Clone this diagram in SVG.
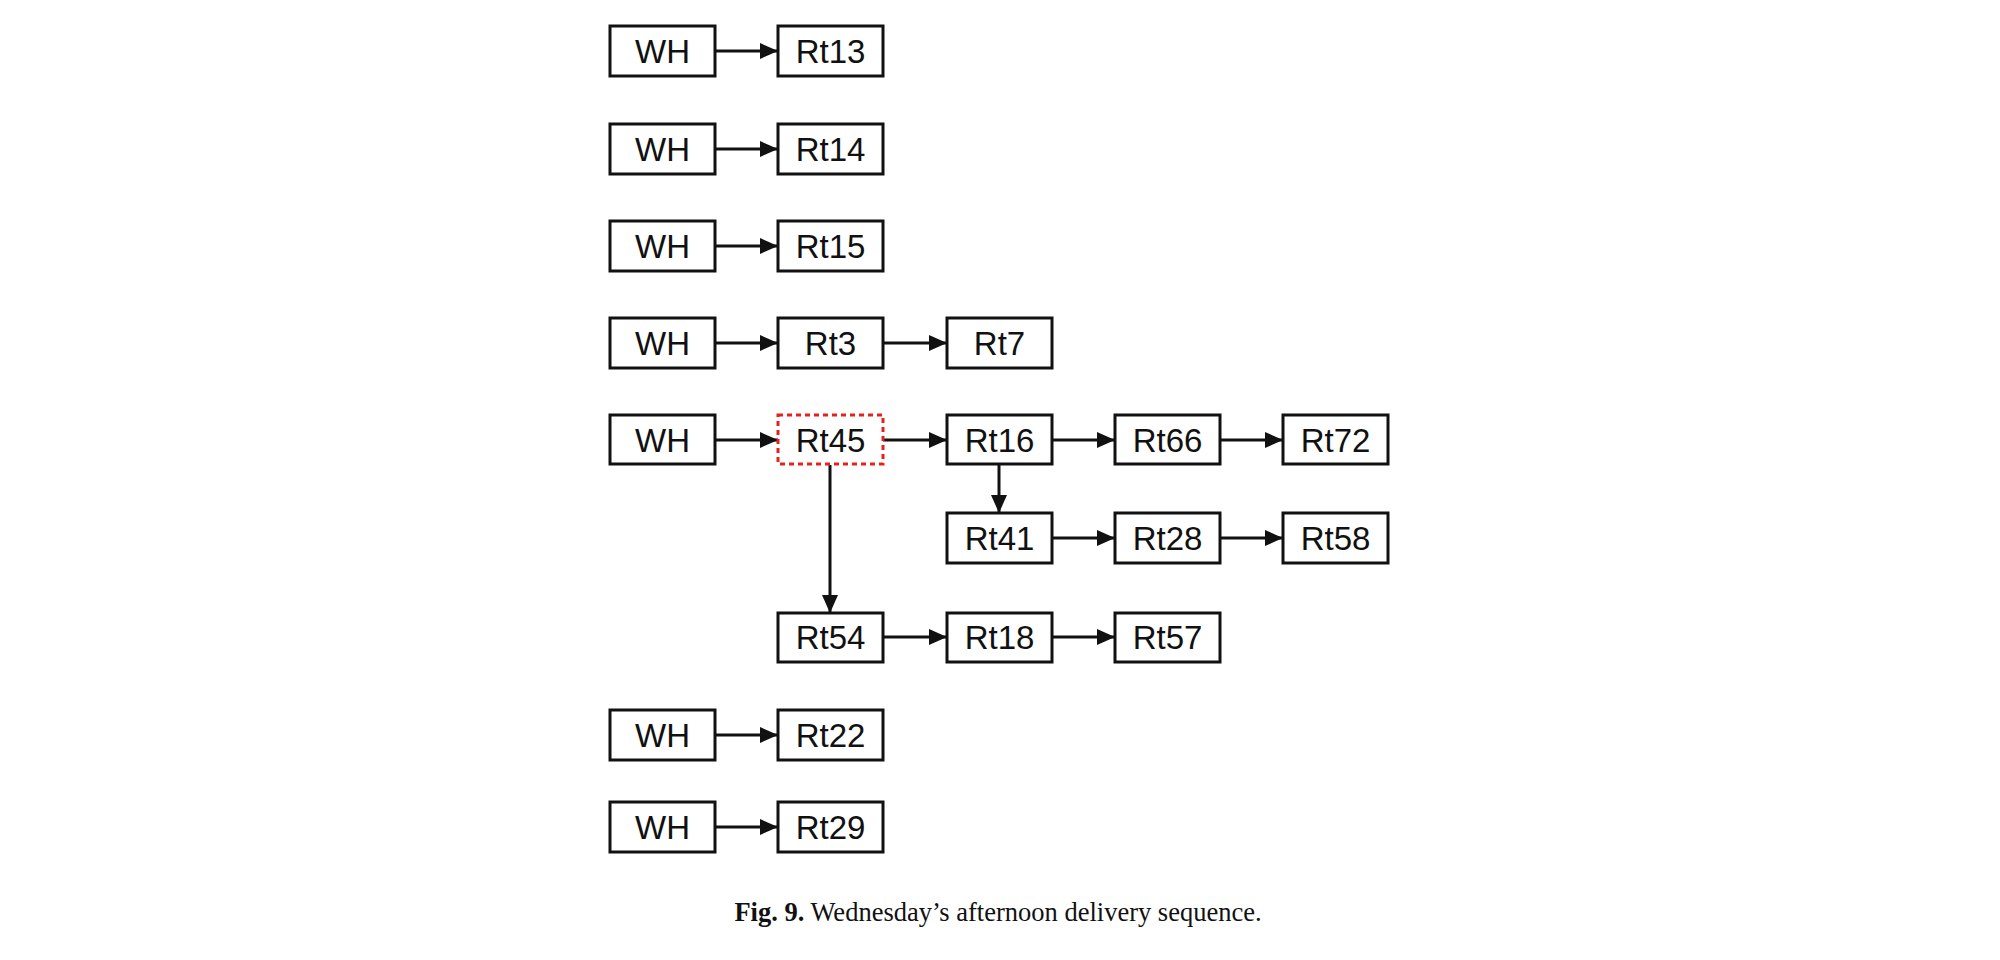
<svg xmlns="http://www.w3.org/2000/svg" width="2000" height="960" viewBox="0 0 2000 960">
<style>
.box{fill:#fff;stroke:#111;stroke-width:3}
.hl{fill:#fff;stroke:#e8201c;stroke-width:3;stroke-dasharray:5 4}
.lbl{font-family:"Liberation Sans",Arial,sans-serif;font-size:33px;fill:#111;text-anchor:middle}
.cn{stroke:#111;stroke-width:3;fill:none}
.cap{font-family:"Liberation Serif","Times New Roman",serif;font-size:26.5px;fill:#111;text-anchor:middle}
</style>
<defs>
<marker id="ah" markerWidth="18" markerHeight="16" refX="18" refY="8" orient="auto" markerUnits="userSpaceOnUse">
<path d="M0,0 L18,8 L0,16 Z" fill="#111"/>
</marker>
</defs>
<rect width="2000" height="960" fill="#fff"/>
<g id="connectors">
<line class="cn" x1="715" y1="51" x2="778" y2="51" marker-end="url(#ah)"/>
<line class="cn" x1="715" y1="149" x2="778" y2="149" marker-end="url(#ah)"/>
<line class="cn" x1="715" y1="246" x2="778" y2="246" marker-end="url(#ah)"/>
<line class="cn" x1="715" y1="343" x2="778" y2="343" marker-end="url(#ah)"/>
<line class="cn" x1="883" y1="343" x2="947" y2="343" marker-end="url(#ah)"/>
<line class="cn" x1="715" y1="440" x2="778" y2="440" marker-end="url(#ah)"/>
<line class="cn" x1="883" y1="440" x2="947" y2="440" marker-end="url(#ah)"/>
<line class="cn" x1="1052" y1="440" x2="1115" y2="440" marker-end="url(#ah)"/>
<line class="cn" x1="1220" y1="440" x2="1283" y2="440" marker-end="url(#ah)"/>
<line class="cn" x1="999" y1="464" x2="999" y2="513" marker-end="url(#ah)"/>
<line class="cn" x1="1052" y1="538" x2="1115" y2="538" marker-end="url(#ah)"/>
<line class="cn" x1="1220" y1="538" x2="1283" y2="538" marker-end="url(#ah)"/>
<line class="cn" x1="830" y1="465" x2="830" y2="613" marker-end="url(#ah)"/>
<line class="cn" x1="883" y1="637" x2="947" y2="637" marker-end="url(#ah)"/>
<line class="cn" x1="1052" y1="637" x2="1115" y2="637" marker-end="url(#ah)"/>
<line class="cn" x1="715" y1="735" x2="778" y2="735" marker-end="url(#ah)"/>
<line class="cn" x1="715" y1="827" x2="778" y2="827" marker-end="url(#ah)"/>
</g>
<g id="wh1"><rect class="box" x="610" y="26" width="105" height="50"/><text class="lbl" x="662.5" y="63">WH</text></g>
<g id="rt13"><rect class="box" x="778" y="26" width="105" height="50"/><text class="lbl" x="830.5" y="63">Rt13</text></g>
<g id="wh2"><rect class="box" x="610" y="124" width="105" height="50"/><text class="lbl" x="662.5" y="161">WH</text></g>
<g id="rt14"><rect class="box" x="778" y="124" width="105" height="50"/><text class="lbl" x="830.5" y="161">Rt14</text></g>
<g id="wh3"><rect class="box" x="610" y="221" width="105" height="50"/><text class="lbl" x="662.5" y="258">WH</text></g>
<g id="rt15"><rect class="box" x="778" y="221" width="105" height="50"/><text class="lbl" x="830.5" y="258">Rt15</text></g>
<g id="wh4"><rect class="box" x="610" y="318" width="105" height="50"/><text class="lbl" x="662.5" y="355">WH</text></g>
<g id="rt3"><rect class="box" x="778" y="318" width="105" height="50"/><text class="lbl" x="830.5" y="355">Rt3</text></g>
<g id="rt7"><rect class="box" x="947" y="318" width="105" height="50"/><text class="lbl" x="999.5" y="355">Rt7</text></g>
<g id="wh5"><rect class="box" x="610" y="415" width="105" height="49"/><text class="lbl" x="662.5" y="452">WH</text></g>
<g id="rt45"><rect class="hl" x="778" y="415" width="105" height="49"/><text class="lbl" x="830.5" y="452">Rt45</text></g>
<g id="rt16"><rect class="box" x="947" y="415" width="105" height="49"/><text class="lbl" x="999.5" y="452">Rt16</text></g>
<g id="rt66"><rect class="box" x="1115" y="415" width="105" height="49"/><text class="lbl" x="1167.5" y="452">Rt66</text></g>
<g id="rt72"><rect class="box" x="1283" y="415" width="105" height="49"/><text class="lbl" x="1335.5" y="452">Rt72</text></g>
<g id="rt41"><rect class="box" x="947" y="513" width="105" height="50"/><text class="lbl" x="999.5" y="550">Rt41</text></g>
<g id="rt28"><rect class="box" x="1115" y="513" width="105" height="50"/><text class="lbl" x="1167.5" y="550">Rt28</text></g>
<g id="rt58"><rect class="box" x="1283" y="513" width="105" height="50"/><text class="lbl" x="1335.5" y="550">Rt58</text></g>
<g id="rt54"><rect class="box" x="778" y="613" width="105" height="49"/><text class="lbl" x="830.5" y="649">Rt54</text></g>
<g id="rt18"><rect class="box" x="947" y="613" width="105" height="49"/><text class="lbl" x="999.5" y="649">Rt18</text></g>
<g id="rt57"><rect class="box" x="1115" y="613" width="105" height="49"/><text class="lbl" x="1167.5" y="649">Rt57</text></g>
<g id="wh6"><rect class="box" x="610" y="710" width="105" height="50"/><text class="lbl" x="662.5" y="747">WH</text></g>
<g id="rt22"><rect class="box" x="778" y="710" width="105" height="50"/><text class="lbl" x="830.5" y="747">Rt22</text></g>
<g id="wh7"><rect class="box" x="610" y="802" width="105" height="50"/><text class="lbl" x="662.5" y="839">WH</text></g>
<g id="rt29"><rect class="box" x="778" y="802" width="105" height="50"/><text class="lbl" x="830.5" y="839">Rt29</text></g>
<text class="cap" x="998" y="921"><tspan font-weight="bold">Fig. 9.</tspan> Wednesday’s afternoon delivery sequence.</text>
</svg>
